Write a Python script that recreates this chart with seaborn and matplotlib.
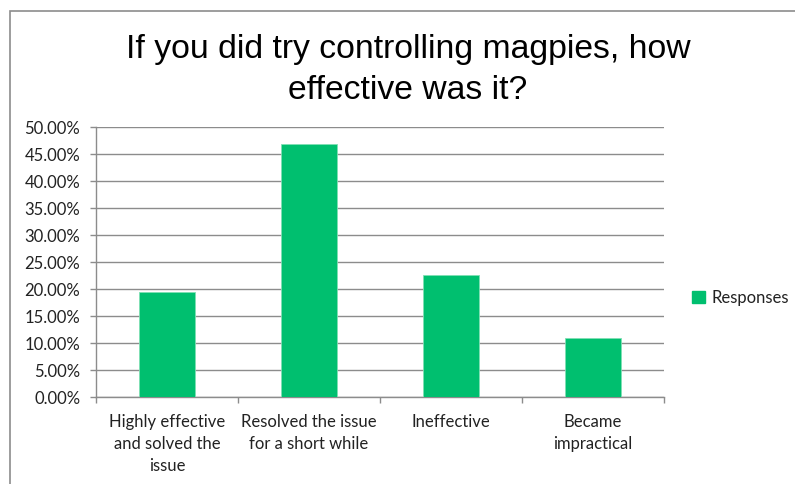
import matplotlib
matplotlib.use("Agg")
import matplotlib.pyplot as plt
import seaborn as sns
import pandas as pd
from matplotlib.patches import Rectangle, Patch
from matplotlib.ticker import FuncFormatter, MultipleLocator

categories = ["Highly effective\nand solved the\nissue",
              "Resolved the issue\nfor a short while",
              "Ineffective",
              "Became\nimpractical"]
responses = [19.44, 46.85, 22.6, 10.9]
series_name = "Responses"
title = "If you did try controlling magpies, how\neffective was it?"

sns.set_theme(style="white")
plt.rcParams['font.family'] = ['Lato', 'DejaVu Sans']

df = pd.DataFrame({"cat": categories, "val": responses})

fig = plt.figure(figsize=(7.95, 4.84), dpi=100)
L, R, T, B = 96, 664, 127.3, 397.3
ax = fig.add_axes([L/795, 1-B/484, (R-L)/795, (B-T)/484])

green = "#00BF6F"
sns.barplot(data=df, x="cat", y="val", color=green, width=0.4, ax=ax,
            saturation=1, edgecolor="#7FE0B4", linewidth=0.6, zorder=3)

ax.set_ylim(0, 50)
ax.set_xlim(-0.5, 3.5)
ax.yaxis.set_major_locator(MultipleLocator(5))
ax.yaxis.set_major_formatter(FuncFormatter(lambda v, p: f"{v:.2f}%"))
ax.grid(axis="y", color="#8C8C8C", linewidth=1.0, zorder=0)
ax.set_axisbelow(True)
ax.set_xlabel("")
ax.set_ylabel("")
for s in ["top", "right"]:
    ax.spines[s].set_visible(False)
for s in ["left", "bottom"]:
    ax.spines[s].set_color("#8C8C8C")
    ax.spines[s].set_linewidth(1.0)

ax.set_xticks([-0.5, 0.5, 1.5, 2.5, 3.5], minor=False)
ax.set_xticklabels([])
ax.set_xticks([0, 1, 2, 3], minor=True)
ax.set_xticklabels(categories, minor=True, fontsize=12, color="#222222",
                   linespacing=1.45)
ax.tick_params(axis="x", which="major", direction="out", length=4.3,
               color="#8C8C8C", width=1, bottom=True)
ax.tick_params(axis="x", which="minor", length=0, pad=12)
ax.tick_params(axis="y", direction="out", length=4.3, color="#8C8C8C",
               width=1, left=True, labelsize=12, labelcolor="#222222", pad=7)

fig.text(408/795, 1-70/484, title, ha="center", va="center", fontsize=24.3,
         family=["Liberation Sans", "DejaVu Sans"], color="#000000",
         linespacing=1.4)

handles = [Patch(facecolor=green, edgecolor=green, label=series_name)]
fig.legend(handles=handles, loc="center left",
           bbox_to_anchor=(692/795, 1-298/484), frameon=False,
           borderaxespad=0, borderpad=0,
           fontsize=12, handlelength=0.75, handleheight=0.75,
           handletextpad=0.4, labelcolor="#222222")

fig.patches.append(Rectangle((10/795, -0.1), 1.2, 1 - 11/484 + 0.1,
                             transform=fig.transFigure, fill=False,
                             edgecolor="#8C8C8C", linewidth=1.2))

fig.savefig("out.png", dpi=100)
